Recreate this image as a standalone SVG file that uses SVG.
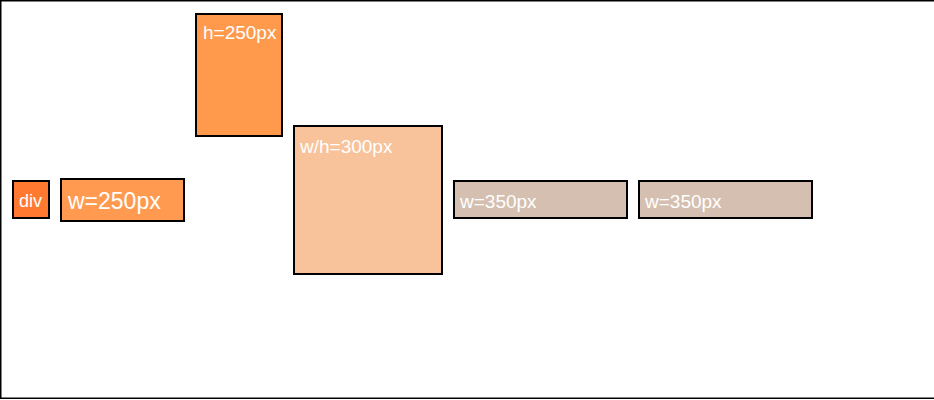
<svg xmlns="http://www.w3.org/2000/svg" width="934" height="400" viewBox="0 0 934 400">
<style>
.b{stroke:#000;stroke-width:2}
.t{fill:#fff;font-family:"Liberation Sans",Arial,sans-serif;font-size:19px}
</style>
<rect x="0.75" y="0.75" width="940" height="397.5" fill="#fff" stroke="#000" stroke-width="1.5"/>
<g id="div"><rect class="b" x="13" y="181" width="36" height="37" fill="#FF7A30"/><text class="t" x="19" y="207" style="font-size:18px">div</text></g>
<g id="w250"><rect class="b" x="61" y="179" width="123" height="42" fill="#FF9A50"/><text class="t" x="68" y="209" style="font-size:23px">w=250px</text></g>
<g id="h250"><rect class="b" x="196" y="14" width="86" height="122" fill="#FF9A4D"/><text class="t" x="203" y="39">h=250px</text></g>
<g id="wh300"><rect class="b" x="294" y="126" width="148" height="148" fill="#F8C39B"/><text class="t" x="300" y="153">w/h=300px</text></g>
<g id="w350a"><rect class="b" x="454" y="181" width="173" height="37" fill="#D5BFB0"/><text class="t" x="460" y="208">w=350px</text></g>
<g id="w350b"><rect class="b" x="639" y="181" width="173" height="37" fill="#D5BFB0"/><text class="t" x="645" y="208">w=350px</text></g>
<g id="connectors"/>
</svg>
